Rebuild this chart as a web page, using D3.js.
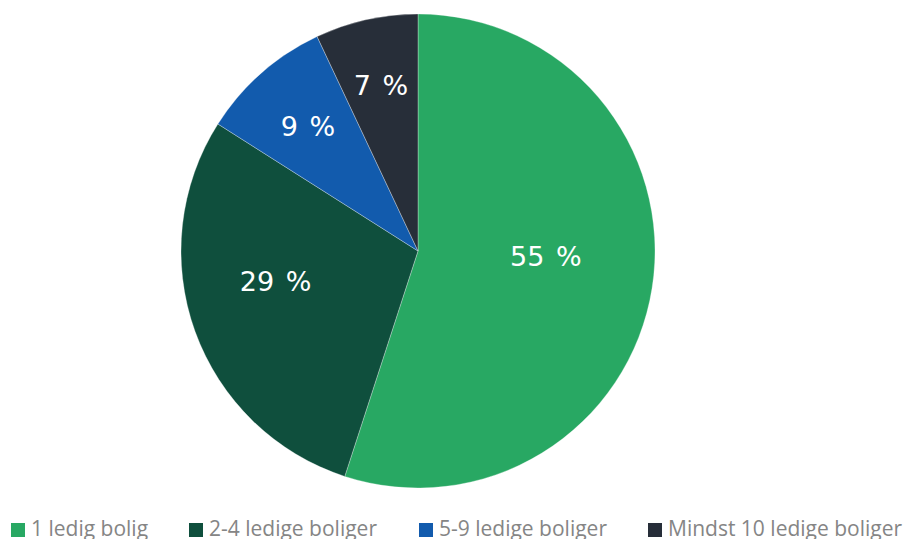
<!DOCTYPE html>
<html>
<head>
<meta charset="utf-8">
<script src="https://cdn.jsdelivr.net/npm/d3@7"></script>
<style>
  body { margin: 0; background: #fff; }
  svg { display: block; }
</style>
</head>
<body>
<div id="chart"></div>
<script>
// data
var categories = ["1 ledig bolig", "2-4 ledige boliger", "5-9 ledige boliger", "Mindst 10 ledige boliger"];
var values = [55, 29, 9, 7];
var colors = ["#28a863", "#0f4f3d", "#125bad", "#272e39"];

var width = 908, height = 539;
var cx = 418, cy = 251, R = 237;

var svg = d3.select("#chart")
  .append("svg")
  .attr("width", width)
  .attr("height", height);

var data = categories.map(function (c, i) { return { name: c, value: values[i], color: colors[i] }; });
var total = d3.sum(values);

var pie = d3.pie()
  .value(function (d) { return d.value; })
  .sort(null);

var arc = d3.arc().innerRadius(0).outerRadius(R);

var g = svg.append("g")
  .attr("transform", "translate(" + cx + "," + cy + ")");

var arcs = pie(data);

g.selectAll("path")
  .data(arcs)
  .enter()
  .append("path")
  .attr("d", arc)
  .attr("fill", function (d) { return d.data.color; })
  .attr("stroke", "#ffffff")
  .attr("stroke-opacity", 0.5)
  .attr("stroke-width", 0.6);

// labels: smaller slices sit further out, big slices lean toward the horizontal
function labelPos(d) {
  var frac = d.data.value / total;
  var r = R * (0.812 - 0.367 * Math.sqrt(frac));
  var a = (d.startAngle + d.endAngle) / 2;
  if (frac > 0.25) {
    var h = Math.sin(a) >= 0 ? Math.PI / 2 : 3 * Math.PI / 2;
    a = a + 1.35 * frac * (h - a);
  }
  return [r * Math.sin(a), -r * Math.cos(a)];
}

g.selectAll("text")
  .data(arcs)
  .enter()
  .append("text")
  .attr("transform", function (d) { return "translate(" + labelPos(d) + ")"; })
  .attr("text-anchor", "middle")
  .attr("dominant-baseline", "central")
  .attr("fill", "#ffffff")
  .style("font-family", "'DejaVu Sans', sans-serif")
  .style("font-size", "27px")
  .style("word-spacing", "3px")
  .text(function (d) { return d.data.value + " %"; });

// legend
var legendX = [11, 189, 419, 648];
var legend = svg.append("g");
var items = legend.selectAll("g")
  .data(data)
  .enter()
  .append("g")
  .attr("transform", function (d, i) { return "translate(" + legendX[i] + ",523)"; });

items.append("rect")
  .attr("width", 14)
  .attr("height", 14)
  .attr("fill", function (d) { return d.color; });

items.append("text")
  .attr("x", 20)
  .attr("y", 13)
  .attr("fill", "#858585")
  .style("font-family", "'Open Sans', sans-serif")
  .style("font-size", "21px")
  .text(function (d) { return d.name; });
</script>
</body>
</html>
